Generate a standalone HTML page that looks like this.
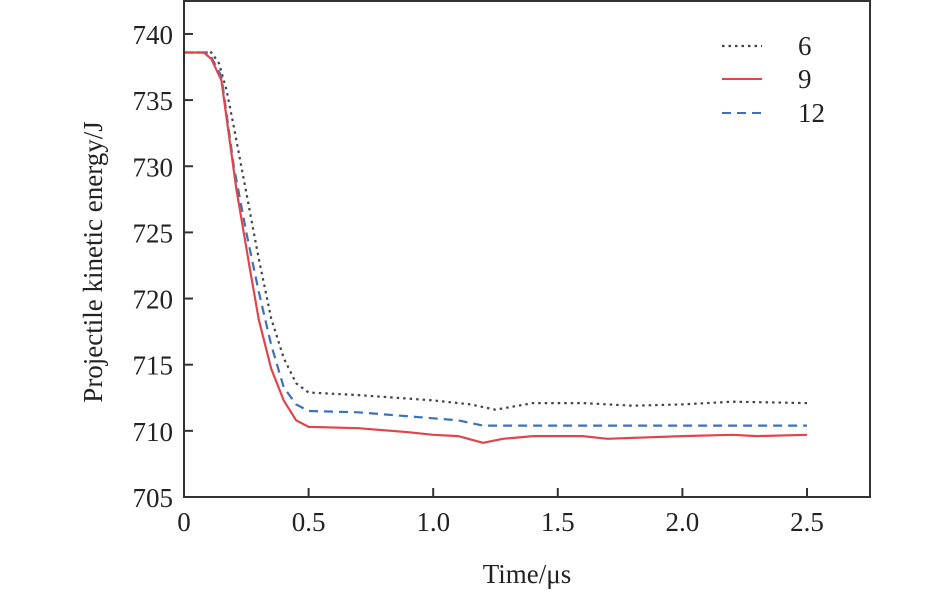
<!DOCTYPE html>
<html><head><meta charset="utf-8"><style>
body{margin:0;background:#fff}
text{font-family:"Liberation Serif",serif;fill:#222}
</style></head><body>
<svg id="c" width="945" height="592">
<g id="ticks"></g><g id="lines"></g>
<rect x="184" y="1" width="686" height="496" fill="none" stroke="#333" stroke-width="2"/>
<text x="527" y="583" font-size="27" text-anchor="middle">Time/μs</text>
<text transform="translate(102,262) rotate(-90)" font-size="27" text-anchor="middle">Projectile kinetic energy/J</text>
<g>
<line x1="722" y1="46" x2="762" y2="46" stroke="#444" stroke-width="2.2" stroke-dasharray="2.5,4"/>
<text x="798" y="55" font-size="27">6</text>
<line x1="722" y1="79" x2="762" y2="79" stroke="#e0454b" stroke-width="2"/>
<text x="798" y="88" font-size="27">9</text>
<line x1="722" y1="113" x2="762" y2="113" stroke="#3d72b8" stroke-width="2" stroke-dasharray="9,6"/>
<text x="798" y="122" font-size="27">12</text>
</g>
</svg>
<script>
const xTicks=[0,0.5,1.0,1.5,2.0,2.5];
const xTickLabels=["0","0.5","1.0","1.5","2.0","2.5"];
const yTicks=[705,710,715,720,725,730,735,740];
const t6=[0,0.11,0.14,0.17,0.2,0.25,0.3,0.35,0.4,0.45,0.5,0.7,1.0,1.15,1.25,1.4,1.6,1.8,2.0,2.2,2.5];
const e6=[738.6,738.6,737.8,735.8,733,728,723,718.5,715.5,713.6,712.9,712.7,712.3,712.0,711.6,712.1,712.1,711.9,712.0,712.2,712.1];
const t9=[0,0.08,0.11,0.15,0.21,0.265,0.3,0.35,0.4,0.45,0.5,0.7,0.9,1.0,1.1,1.2,1.28,1.4,1.6,1.7,2.0,2.2,2.3,2.5];
const e9=[738.6,738.6,738.1,736.5,728.3,722.2,718.4,714.7,712.3,710.8,710.3,710.2,709.9,709.7,709.6,709.1,709.4,709.6,709.6,709.4,709.6,709.7,709.6,709.7];
const t12=[0,0.1,0.15,0.2,0.25,0.3,0.35,0.4,0.45,0.5,0.7,0.9,1.1,1.2,1.3,2.5];
const e12=[738.6,738.6,736.8,730,725,720.5,716.5,713.3,712,711.5,711.4,711.1,710.8,710.4,710.4,710.4];
const X=v=>184+v*249.2, Y=v=>497-(v-705)*13.23;
const NS="http://www.w3.org/2000/svg";
const tk=document.getElementById('ticks'), ln=document.getElementById('lines');
function mk(p,tag,a){const e=document.createElementNS(NS,tag);for(const k in a)e.setAttribute(k,a[k]);p.appendChild(e);return e;}
xTicks.forEach((v,i)=>{
 const l=mk(tk,'line',{x1:X(v),x2:X(v),y1:497,y2:488,stroke:'#333','stroke-width':2});
 
 
 const t=mk(tk,'text',{x:X(v),y:531,'font-size':27,'text-anchor':'middle'});t.textContent=xTickLabels[i];
 
 
});
yTicks.forEach(v=>{
 const l=mk(tk,'line',{x1:184,x2:193,y1:Y(v),y2:Y(v),stroke:'#333','stroke-width':2});
 
 
 const t=mk(tk,'text',{x:173,y:Y(v)+10,'font-size':27,'text-anchor':'end'});t.textContent=v;
 
 
});
function series(ts,es,st,da,name){
 const d=ts.map((t,i)=>(i?'L':'M')+X(t).toFixed(1)+','+Y(es[i]).toFixed(1)).join('');
 const p=mk(ln,'path',{d:d,fill:'none',stroke:st,'stroke-width':2.2,'stroke-linejoin':'round'});
 if(da)p.setAttribute('stroke-dasharray',da);
 
 
}
series(t6,e6,'#444','2.5,4','series-6');
series(t12,e12,'#3d72b8','9,6','series-12');
series(t9,e9,'#e0454b',null,'series-9');
</script>
</body></html>
